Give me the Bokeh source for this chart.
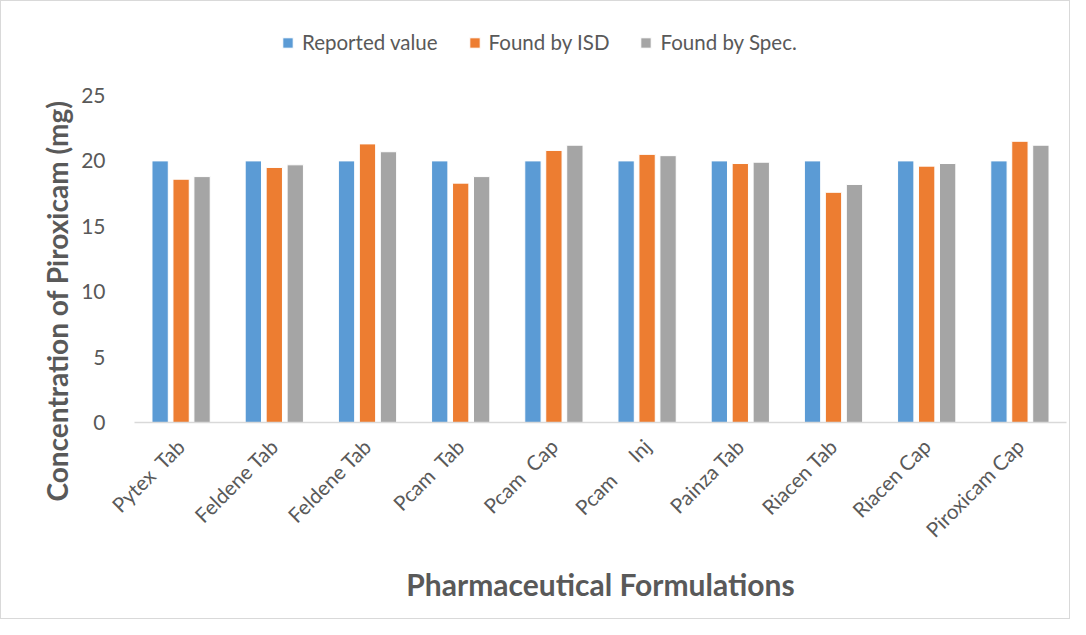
import math
from bokeh.plotting import figure
from bokeh.models import ColumnDataSource, Legend, LegendItem, FixedTicker, Title
from bokeh.embed import file_html
from bokeh.resources import INLINE

NB = "\u00a0"
categories = ["Pytex" + NB + " Tab", "Feldene Tab", "Feldene Tab", "Pcam" + NB + " Tab",
              "Pcam" + NB + " Cap", "Pcam" + NB * 4 + " Inj", "Painza Tab", "Riacen Tab",
              "Riacen Cap", "Piroxicam Cap"]
reported = [20, 20, 20, 20, 20, 20, 20, 20, 20, 20]
found_isd = [18.6, 19.5, 21.3, 18.3, 20.8, 20.5, 19.8, 17.6, 19.6, 21.5]
found_spec = [18.8, 19.7, 20.7, 18.8, 21.2, 20.4, 19.9, 18.2, 19.8, 21.2]
series_names = ["Reported value", "Found by ISD", "Found by Spec."]
y_ticks = [0, 5, 10, 15, 20, 25]
colors = ["#5B9BD5", "#ED7D31", "#A5A5A5"]

FONT = "Lato"
TXT = "#595959"

# plot area: y=0 at 421px, y=25 at 94px; frame extended up to 8px to host the legend
FRAME_TOP, AXIS_Y, TOP_Y = 8, 421, 94
y_end = 25 * (AXIS_Y - FRAME_TOP) / (AXIS_Y - TOP_Y)

p = figure(width=1070, height=619, x_range=(0, len(categories)), y_range=(0, y_end),
           output_backend="svg", toolbar_location=None, title_location=None,
           min_border_left=133, min_border_right=5, min_border_top=FRAME_TOP,
           min_border_bottom=619 - AXIS_Y)

centers = [i + 0.5 for i in range(len(categories))]
offsets = [-0.225, 0.0, 0.225]
renderers = []
for vals, off, col in zip([reported, found_isd, found_spec], offsets, colors):
    src = ColumnDataSource(dict(x=[c + off for c in centers], top=vals))
    r = p.vbar(x="x", top="top", width=0.175, bottom=0, source=src,
               fill_color=col, line_color="white", line_width=1)
    renderers.append(r)

p.xgrid.visible = False
p.ygrid.visible = False
p.outline_line_color = None

p.xaxis.ticker = FixedTicker(ticks=centers)
p.xaxis.major_label_overrides = {c: lab for c, lab in zip(centers, categories)}
p.xaxis.major_label_orientation = math.pi / 4
p.xaxis.major_tick_line_color = None
p.xaxis.minor_tick_line_color = None
p.xaxis.axis_line_color = "#D9D9D9"
p.xaxis.axis_line_width = 1.5
p.xaxis.major_label_standoff = 14
p.xaxis.major_label_text_font = FONT
p.xaxis.major_label_text_font_size = "20.5px"
p.xaxis.major_label_text_color = TXT
p.xaxis.axis_label = "Pharmaceutical Formulations"
p.xaxis.axis_label_text_font = FONT
p.xaxis.axis_label_text_font_size = "30px"
p.xaxis.axis_label_text_font_style = "bold"
p.xaxis.axis_label_text_color = TXT
p.xaxis.axis_label_standoff = 13

p.yaxis.ticker = FixedTicker(ticks=y_ticks)
p.yaxis.axis_line_color = None
p.yaxis.major_tick_line_color = None
p.yaxis.minor_tick_line_color = None
p.yaxis.major_label_standoff = 23
p.yaxis.major_label_text_font = FONT
p.yaxis.major_label_text_font_size = "21px"
p.yaxis.major_label_text_color = TXT

ytitle = Title(text="Concentration of Piroxicam (mg)", align="left", offset=-79,
               text_font=FONT, text_font_size="28px", text_font_style="bold",
               text_color=TXT, standoff=10)
p.add_layout(ytitle, "left")

legend = Legend(items=[LegendItem(label=n, renderers=[r]) for n, r in zip(series_names, renderers)],
                orientation="horizontal", location=(147, 368),
                padding=0, margin=0, spacing=30, label_standoff=8,
                glyph_width=13, glyph_height=13,
                label_text_font=FONT, label_text_font_size="20.5px", label_text_color=TXT,
                border_line_color=None, background_fill_alpha=0)
p.add_layout(legend, "center")

p.styles = {"border": "1px solid #D9D9D9", "box-sizing": "border-box"}

open("out.html", "w").write(file_html(p, INLINE))
